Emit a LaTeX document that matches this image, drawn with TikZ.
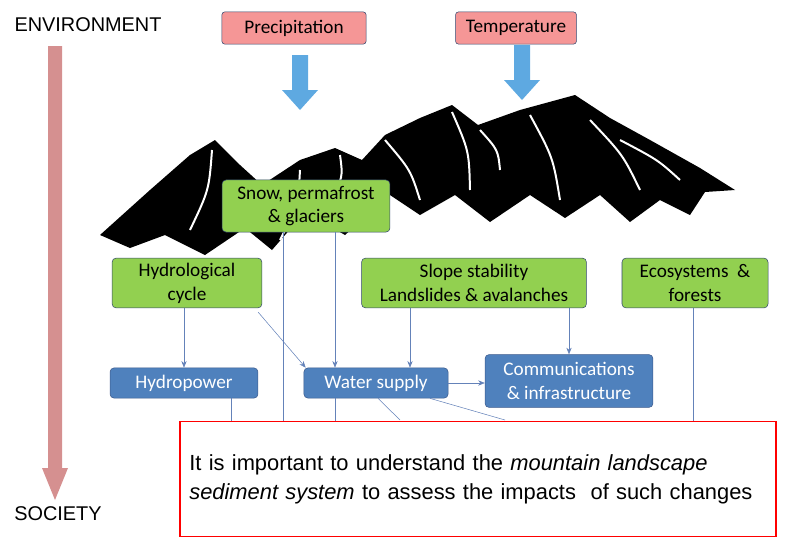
\documentclass[tikz,border=0pt]{standalone}
\usepackage{fontspec}
\setmainfont{Liberation Sans}
\newfontfamily\boxfont{Carlito}
\usetikzlibrary{positioning,arrows.meta,calc}
\begin{document}
\begin{tikzpicture}[x=0.0265cm,y=-0.0265cm,
    driver/.style={draw={rgb,255:red,50;green,70;blue,110}, rounded corners=2pt, fill={rgb,255:red,245;green,150;blue,150}, font=\boxfont\fontsize{14.5}{17}\selectfont, inner sep=0pt},
    process/.style={draw={rgb,255:red,50;green,70;blue,110}, rounded corners=3pt, fill={rgb,255:red,146;green,208;blue,80}, font=\boxfont\fontsize{14.5}{18}\selectfont, align=center, inner sep=0pt},
    impact/.style={draw={rgb,255:red,60;green,90;blue,140}, rounded corners=3pt, fill={rgb,255:red,79;green,129;blue,189}, text=white, font=\boxfont\fontsize{14.5}{18}\selectfont, align=center, inner sep=0pt},
    link/.style={draw={rgb,255:red,100;green,130;blue,185}, thin},
    flow/.style={link, -{Stealth[length=5pt,width=4pt]}}
]
    \useasboundingbox (0,0) rectangle (793,551);

    % Axis
    \node [font=\fontsize{15}{17}\selectfont] (env) at (88,25) {ENVIRONMENT};
    \node [font=\fontsize{15}{17}\selectfont] (soc) at (58,514) {SOCIETY};
    \fill [red!45!gray!60!white] (48,46) rectangle (62,468) -- (68,468) -- (55,500) -- (42,468) -- (48,468);

    % Mountains
    \fill [black] (100,235) -- (150,190) -- (190,155) -- (215,140) -- (240,165) -- (262,185) -- (300,160) -- (335,148) -- (362,160) -- (385,135) -- (420,118) -- (452,105) -- (478,125) -- (520,110) -- (575,95) -- (610,118) -- (650,140) -- (700,168) -- (735,190) -- (705,192) -- (690,215) -- (660,200) -- (630,222) -- (600,195) -- (565,218) -- (530,195) -- (490,222) -- (455,195) -- (420,215) -- (390,195) -- (345,235) -- (305,212) -- (272,250) -- (245,228) -- (205,255) -- (165,235) -- (130,248) -- cycle;
    \foreach \a/\b/\c/\d in {385/140/420/200, 452/112/470/190, 530/115/560/200, 590/120/640/190, 212/150/190/230, 300/170/280/240, 480/130/500/170, 620/140/680/180, 340/155/330/200} {
        \draw [white, line width=1.5pt] (\a,\b) .. controls ($(\a,\b)!0.5!(\c,\d)+(8,0)$) .. (\c,\d);
    }

    % Drivers
    \node [driver, minimum width=3.82cm, minimum height=0.85cm] (prec) at (294,28) {Precipitation};
    \node [driver, minimum width=3.2cm, minimum height=0.85cm] (temp) at (516,28) {Temperature};
    \fill [cyan!70!blue!65!white] (292,55) rectangle (308,90) -- (318,90) -- (300,110) -- (282,90) -- (292,90);
    \fill [cyan!70!blue!65!white] (514,45) rectangle (530,80) -- (540,80) -- (522,100) -- (504,80) -- (514,80);

    % Processes
    \node [process, minimum width=4.45cm, minimum height=1.38cm] (snow) at (306,206) {Snow, permafrost\\\& glaciers};
    \node [process, minimum width=3.97cm, minimum height=1.32cm] (hydro) at (187,283) {Hydrological\\cycle};
    \node [process, minimum width=5.96cm, minimum height=1.32cm] (slope) at (474,283) {Slope stability\\Landslides \& avalanches};
    \node [process, minimum width=3.87cm, minimum height=1.32cm] (eco) at (695,283) {Ecosystems \ \&\\forests};

    % Impacts
    \node [impact, minimum width=3.92cm, minimum height=0.8cm] (power) at (184,383) {Hydropower};
    \node [impact, minimum width=3.82cm, minimum height=0.8cm] (water) at (376,383) {Water supply};
    \node [impact, minimum width=4.45cm, minimum height=1.4cm] (comm) at (569,381) {Communications\\\& infrastructure};

    % Message
    \node [draw=red, line width=1.2pt, fill=white, minimum width=15.8cm, minimum height=3.05cm, text width=15.3cm, align=left, font=\fontsize{16.5}{22}\selectfont] (msg) at (478,479) {It is important to understand the \textit{mountain landscape}\\\textit{sediment system} to assess the impacts\ \ of such changes};

    % Links
    \coordinate (c231) at (231,0);
    \coordinate (c283) at (283,0);
    \coordinate (c335) at (335,0);
    \coordinate (c378) at (378,0);
    \coordinate (c410) at (410,0);
    \coordinate (c430) at (430,0);
    \coordinate (c693) at (693,0);
    \draw [flow] (hydro.south -| power) -- (power.north);
    \draw [flow] ($(hydro.south east)+(-4,4)$) -- ($(water.north west)+(2,0)$);
    \draw [flow] (snow.south -| c335) -- (water.north -| c335);
    \draw [flow] (slope.south -| c410) -- (water.north -| c410);
    \draw [flow] (slope.south -| comm) -- (comm.north);
    \draw [flow] (water.east) -- (comm.west |- water.east);
    \draw [link] (snow.south -| c283) -- (msg.north -| c283);
    \draw [link] (power.south -| c231) -- (msg.north -| c231);
    \draw [link] (water.south -| c335) -- (msg.north -| c335);
    \draw [link] (water.south -| c378) -- (400,420);
    \draw [link] (water.south -| c430) -- (505,420);
    \draw [link] (eco.south -| c693) -- (msg.north -| c693);
\end{tikzpicture}
\end{document}
